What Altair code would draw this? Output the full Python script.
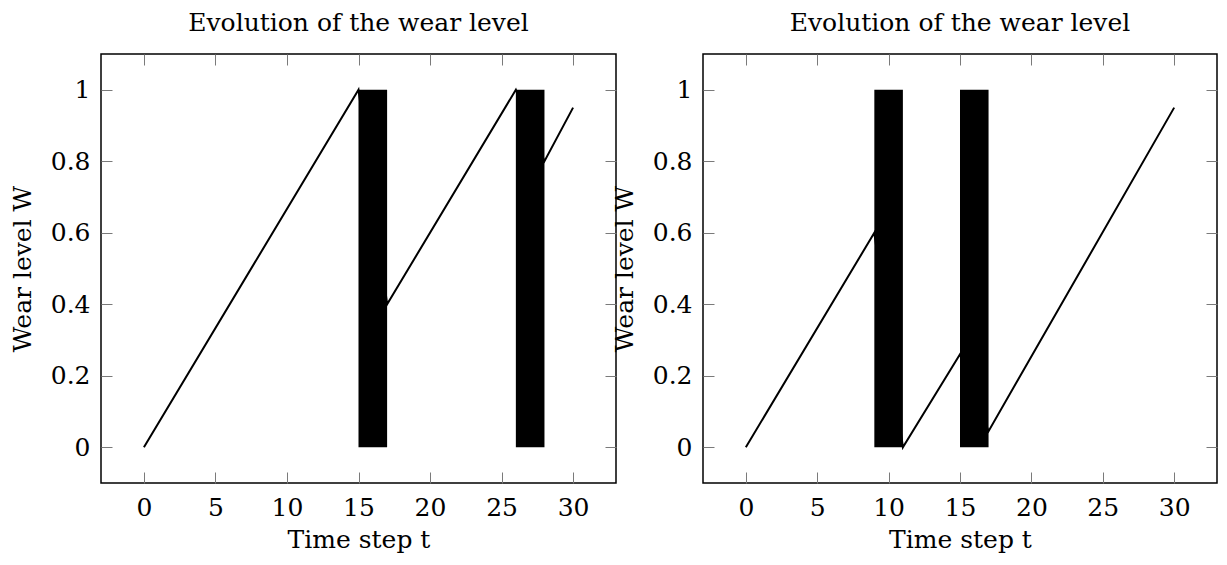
import altair as alt
import pandas as pd

# ---- data ----
left_t = [0, 15, 17, 26, 28, 30]
left_w = [0.0, 1.0, 0.40, 1.0, 0.80, 0.95]
left_bar_start = [15, 26]
left_bar_end = [17, 28]

right_t = [0, 9, 11, 15, 17, 30]
right_w = [0.0, 0.60, 0.0, 0.26, 0.045, 0.95]
right_bar_start = [9, 15]
right_bar_end = [11, 17]

bar_low = 0.0
bar_high = 1.0

x_ticks = [0, 5, 10, 15, 20, 25, 30]
y_ticks = [0, 0.2, 0.4, 0.6, 0.8, 1]
x_domain = [-3, 33]
y_domain = [-0.1, 1.1]

panel_title = "Evolution of the wear level"
x_title = "Time step t"
y_title = "Wear level W"

FONT = "DejaVu Serif"
FS = 25
TICK = 11
TICK_COLOR = "#7a7a7a"


def panel(ts, ws, bs, be, width):
    line_df = pd.DataFrame({"t": ts, "w": ws})
    bar_df = pd.DataFrame({
        "start": bs, "end": be,
        "low": [bar_low] * len(bs), "high": [bar_high] * len(bs),
    })
    xs = alt.Scale(domain=x_domain, nice=False, zero=False)
    ys = alt.Scale(domain=y_domain, nice=False, zero=False)

    bottom = alt.Axis(orient="bottom", values=x_ticks, offset=-TICK, tickSize=TICK,
                      domain=False, grid=False, tickColor=TICK_COLOR, tickWidth=1,
                      labelPadding=12, labelFont=FONT, labelFontSize=FS, labelColor="black",
                      title=x_title, titleFont=FONT, titleFontSize=FS, titleFontWeight="normal",
                      titleColor="black", titlePadding=7, format="d")
    left = alt.Axis(orient="left", values=y_ticks, offset=-TICK, tickSize=TICK,
                    domain=False, grid=False, tickColor=TICK_COLOR, tickWidth=1,
                    labelPadding=11, labelFont=FONT, labelFontSize=FS, labelColor="black",
                    title=y_title, titleFont=FONT, titleFontSize=FS, titleFontWeight="normal",
                    titleColor="black", titlePadding=15,
                    labelExpr="datum.value == 0 ? '0' : datum.value == 1 ? '1' : format(datum.value, '.1f')")
    top = alt.Axis(orient="top", values=x_ticks, offset=-TICK, tickSize=TICK,
                   domain=False, grid=False, tickColor=TICK_COLOR, tickWidth=1,
                   labels=False, title="")
    right = alt.Axis(orient="right", values=y_ticks, offset=-TICK, tickSize=TICK,
                     domain=False, grid=False, tickColor=TICK_COLOR, tickWidth=1,
                     labels=False, title="")

    line = alt.Chart(line_df).mark_line(color="black", strokeWidth=2).encode(
        x=alt.X("t:Q", scale=xs, axis=bottom),
        y=alt.Y("w:Q", scale=ys, axis=left),
    )
    bars = alt.Chart(bar_df).mark_rect(color="black").encode(
        x=alt.X("start:Q", scale=xs, axis=top),
        x2="end:Q",
        y=alt.Y("low:Q", scale=ys, axis=right),
        y2="high:Q",
    )
    return alt.layer(line, bars).resolve_axis(x="independent", y="independent").properties(
        width=width, height=429,
        title=alt.TitleParams(panel_title, font=FONT, fontSize=FS, fontWeight="normal",
                              color="black", anchor="middle", offset=18),
    )


chart = alt.hconcat(
    panel(left_t, left_w, left_bar_start, left_bar_end, 515),
    panel(right_t, right_w, right_bar_start, right_bar_end, 514),
    spacing=87, bounds="flush",
).properties(
    padding={"left": 1, "top": 1, "right": 0, "bottom": 0},
    background="white",
).configure_view(stroke="black", strokeWidth=1.5)

chart.save("out.html", embed_options={"renderer": "svg", "actions": False})
